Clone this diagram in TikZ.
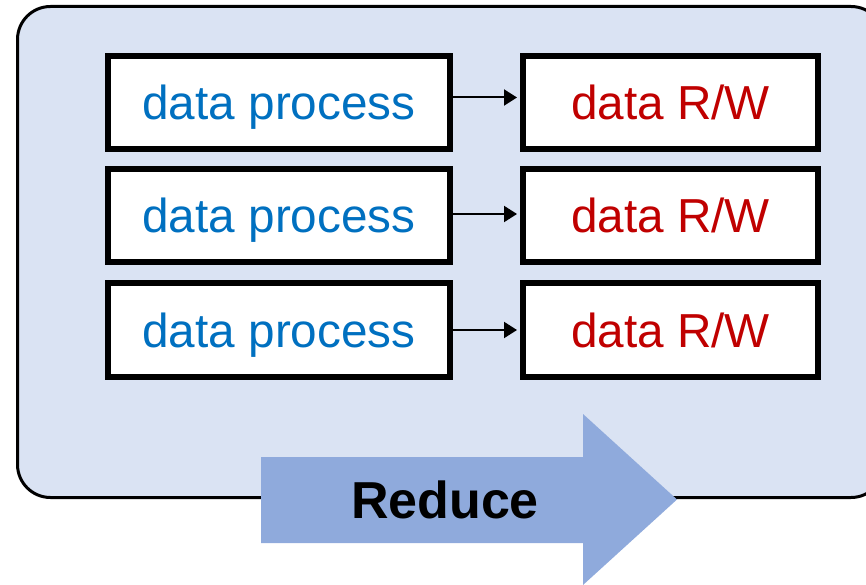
\documentclass[tikz,border=0pt]{standalone}
\usepackage{fontspec}
\setmainfont{Liberation Sans}
\usetikzlibrary{arrows.meta}
\definecolor{panelfill}{HTML}{DAE3F3}
\definecolor{reducefill}{HTML}{8FAADC}
\definecolor{proctext}{HTML}{0070C0}
\definecolor{rwtext}{HTML}{C00000}
\tikzset{
  taskbox/.style={draw=black, line width=6pt, fill=white, inner sep=0pt,
    text height=34pt, text depth=0pt,
    font=\fontsize{47.7}{57}\selectfont},
  procbox/.style={taskbox, text=proctext, minimum width=342pt, minimum height=93.5pt},
  rwbox/.style={taskbox, text=rwtext, minimum width=295pt, minimum height=93.5pt},
  flow/.style={line width=2pt, -{Triangle[length=13pt,width=16pt]}, shorten >=3pt},
}
\begin{document}
\begin{tikzpicture}[x=1pt,y=-1pt]
  \useasboundingbox (0,0) rectangle (866,585);
  \clip (0,0) rectangle (866,585);
  % reduce stage panel
  \draw[line width=3pt, fill=panelfill, rounded corners=33pt] (17.5,6.5) rectangle (884,497.5);
  % tasks
  \node[procbox] (p1) at (279,102.5) {data process};
  \node[procbox] (p2) at (279,215.5) {data process};
  \node[procbox] (p3) at (279,330) {data process};
  \node[rwbox] (w1) at (670.5,102.5) {data R/W};
  \node[rwbox] (w2) at (670.5,215.5) {data R/W};
  \node[rwbox] (w3) at (670.5,330) {data R/W};
  \draw[flow] ([yshift=5pt]p1.east) -- ([yshift=5pt]w1.west);
  \draw[flow] ([yshift=1.5pt]p2.east) -- ([yshift=1.5pt]w2.west);
  \draw[flow] (p3.east) -- (w3.west);
  % reduce arrow
  \fill[reducefill] (261,457) -- (583,457) -- (583,414) -- (677,499.5)
    -- (583,585) -- (583,543) -- (261,543) -- cycle;
  \node[font=\fontsize{52}{62}\selectfont\bfseries] (reduce) at (445,500) {Reduce};
\end{tikzpicture}
\end{document}
